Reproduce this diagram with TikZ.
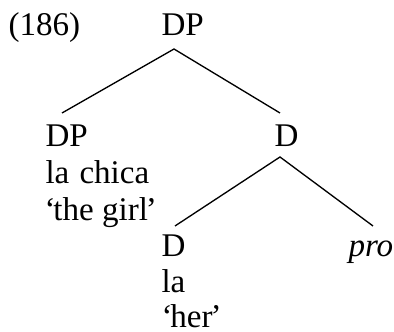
\documentclass[tikz,border=0pt]{standalone}
\usepackage{fontspec}
\setmainfont{Liberation Serif}
\usepackage{tikz}
\newcommand{\gl}[1]{`\kern-0.8pt#1\kern-0.8pt'}
\tikzset{
  word/.style={anchor=base west, inner sep=0pt, font=\fontsize{12.4}{14}\selectfont},
  branch/.style={black, line width=0.5pt},
}

\begin{document}
\begin{tikzpicture}[x=0.375pt,y=-0.375pt]
  \useasboundingbox (0,0) rectangle (394,332);

  % example number and root
  \node[word] (num)  at (8,36)  {(186)};
  \node[word] (root) at (161,36) {DP};

  % left daughter
  \node[word] (spec)  at (45,147) {DP};
  \node[word] (specw) at (45,184) {la\hspace{0.7pt} chica};
  \node[word] (specg) at (44,221) {\gl{the girl}};

  % right daughter
  \node[word] (dbar) at (274,147) {D};

  % head and its complement
  \node[word] (head)  at (161,257) {D};
  \node[word] (headw) at (161,293) {la};
  \node[word] (headg) at (161,328) {\gl{her}};
  \node[word] (comp)  at (348,257) {\itshape pro};

  % branch ends
  \coordinate (root-f) at (174,49);
  \coordinate (spec-h) at (62,113);
  \coordinate (dbar-h) at (280,113);
  \coordinate (dbar-f) at (280,157);
  \coordinate (head-h) at (175,226);
  \coordinate (comp-h) at (373,226);

  \draw[branch] (spec-h) -- (root-f) -- (dbar-h);
  \draw[branch] (head-h) -- (dbar-f) -- (comp-h);

\end{tikzpicture}
\end{document}
